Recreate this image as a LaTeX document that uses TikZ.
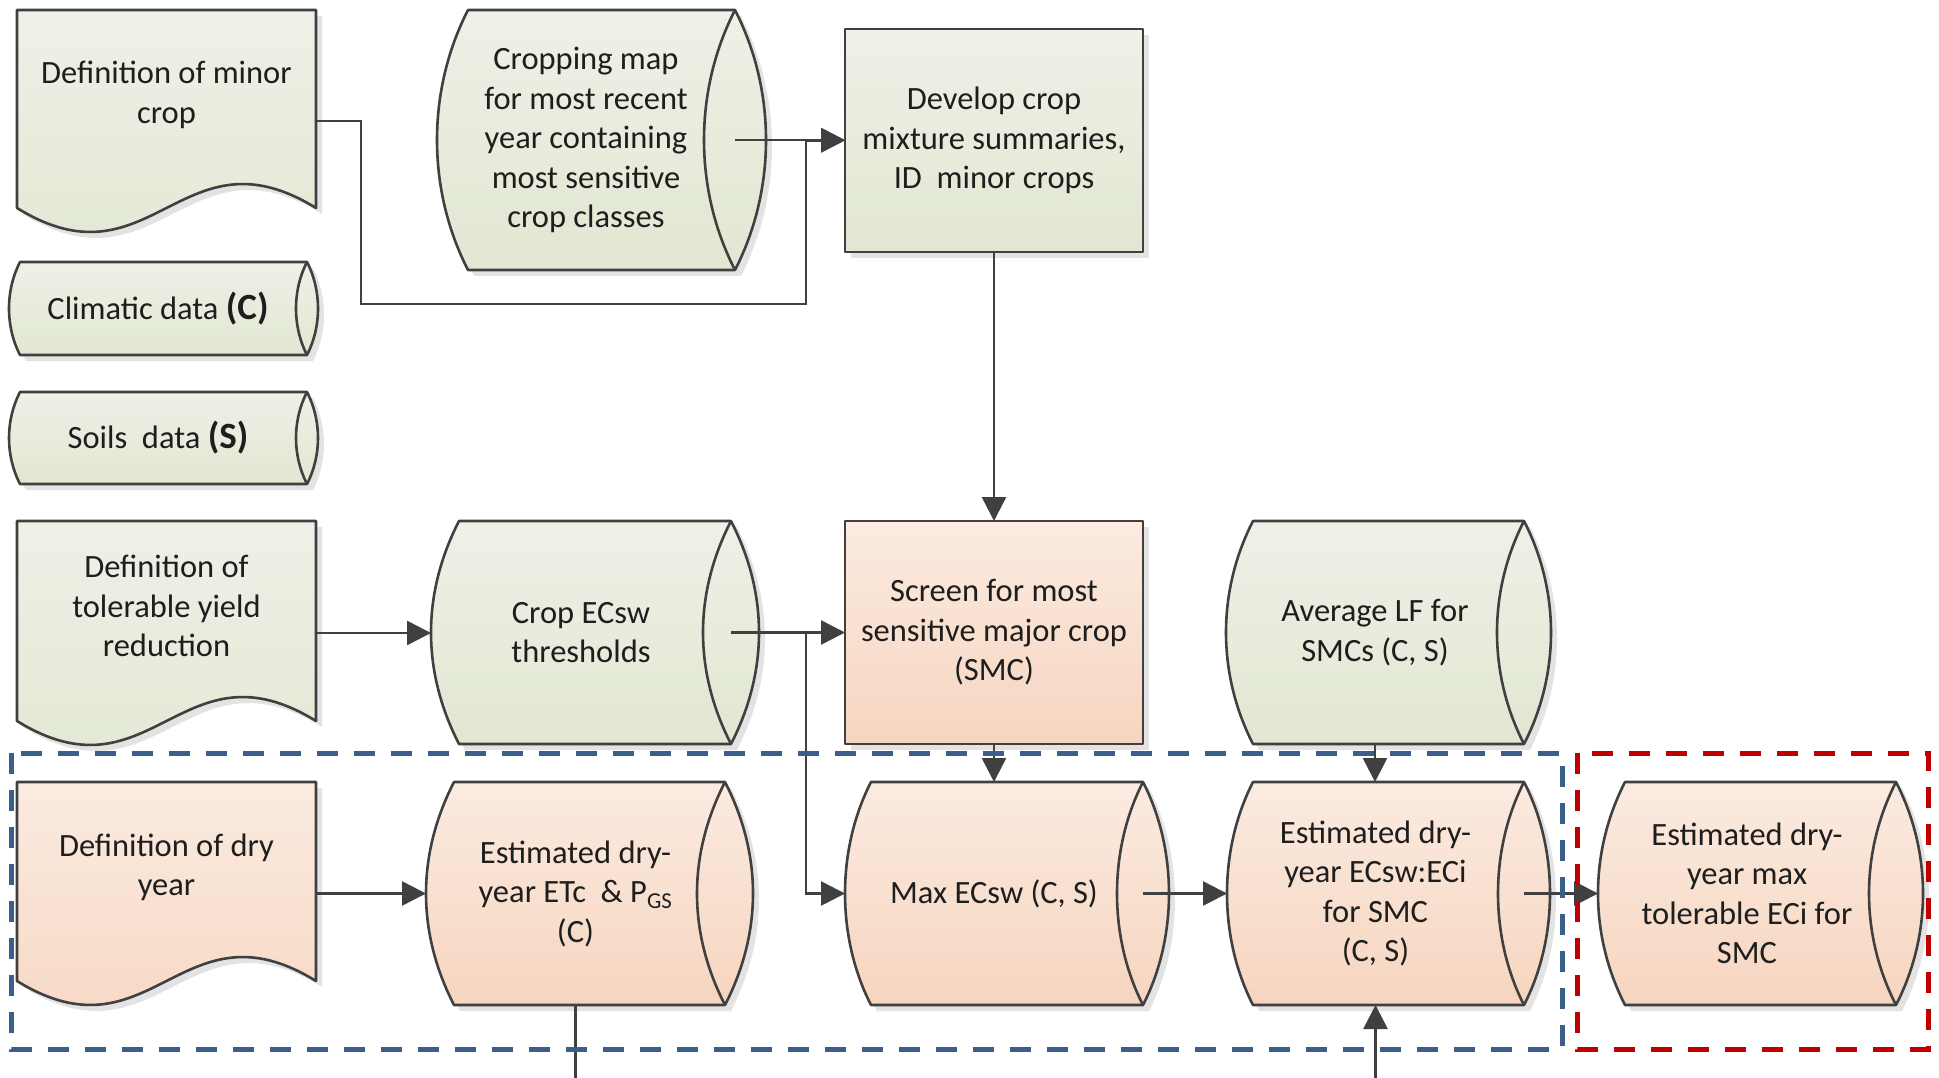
\documentclass[tikz,border=0pt]{standalone}
\usepackage{fontspec}
\setmainfont{Carlito}
\usetikzlibrary{arrows.meta,backgrounds}
\definecolor{linec}{HTML}{404040}
\definecolor{grnT}{HTML}{EEF1E7}
\definecolor{grnB}{HTML}{E1E7D2}
\definecolor{pchT}{HTML}{FBEBE1}
\definecolor{pchB}{HTML}{F6D5BF}
\definecolor{shadowc}{HTML}{E3E3E3}
\definecolor{dashblue}{HTML}{3A5F8B}
\definecolor{dashred}{HTML}{C00000}
\definecolor{txtc}{HTML}{1E1E1E}
\tikzset{
  shp/.style={rectangle, inner sep=0pt, outer sep=0pt, align=center, text=txtc,
    font=\fontsize{32.5}{39.5}\selectfont},
  lbl/.style={inner sep=0pt, outer sep=0pt, align=center, text=txtc,
    font=\fontsize{32.5}{39.5}\selectfont},
  fillgrn/.style={top color=grnT, bottom color=grnB},
  fillpch/.style={top color=pchT, bottom color=pchB},
  outline/.style={draw=linec, line width=2.6pt, line join=round},
  conn/.style={draw=linec, line width=2.6pt, -{Triangle[length=24pt,width=24pt]}},
  plainline/.style={draw=linec, line width=2.6pt},
  grpbox/.style={line width=5pt, dash pattern=on 21pt off 16pt}
}
\newcommand{\bigbf}[1]{{\fontsize{37}{39.5}\selectfont\bfseries #1}}
% lens-shaped horizontal cylinder: #1 node, #2 rx, #3 fill style
\newcommand{\cylshape}[3]{%
  \pgfmathsetmacro\cA{1.333*#2}%
  \pgfmathsetmacro\cB{2.6*#2}%
  \begin{scope}[transform canvas={shift={(6pt,-6pt)}}]
    \fill[shadowc] ([xshift=#2pt]#1.north west) -- (#1.north east)
      .. controls +(\cA,\cB) and +(\cA,-\cB) .. (#1.south east)
      -- ([xshift=#2pt]#1.south west)
      .. controls +(-\cA,-\cB) and +(-\cA,\cB) .. ([xshift=#2pt]#1.north west) -- cycle;
  \end{scope}
  \path[#3, outline] ([xshift=#2pt]#1.north west) -- (#1.north east)
      .. controls +(\cA,\cB) and +(\cA,-\cB) .. (#1.south east)
      -- ([xshift=#2pt]#1.south west)
      .. controls +(-\cA,-\cB) and +(-\cA,\cB) .. ([xshift=#2pt]#1.north west) -- cycle;
  \draw[outline] (#1.north east) .. controls +(-\cA,\cB) and +(-\cA,-\cB) .. (#1.south east);
}
\newcommand{\docshape}[3]{%
  \begin{scope}[transform canvas={shift={(6pt,-6pt)}}]
    \fill[shadowc] (#1.north west) -- (#1.north east) -- ([yshift=24pt]#1.south east)
      .. controls +(-#2,-83) and +(#2,83) .. ([yshift=24pt]#1.south west) -- cycle;
  \end{scope}
  \path[#3, outline] (#1.north west) -- (#1.north east) -- ([yshift=24pt]#1.south east)
      .. controls +(-#2,-83) and +(#2,83) .. ([yshift=24pt]#1.south west) -- cycle;
}
\newcommand{\rectshape}[2]{%
  \begin{scope}[transform canvas={shift={(6pt,-6pt)}}]
    \fill[shadowc] (#1.north west) rectangle (#1.south east);
  \end{scope}
  \path[#2, outline] (#1.north west) rectangle (#1.south east);
}
\begin{document}
\begin{tikzpicture}[x=1pt,y=-1pt]
\useasboundingbox (0,0) rectangle (1939,1078);
% ---- nodes
\node[shp, minimum width=299pt, minimum height=222pt] (doc1) at (166.5,121) {};
\node[lbl] (doc1t) at ([yshift=26pt]doc1.center) {Definition of minor\\crop};
\node[shp, minimum width=298pt, minimum height=260pt] (cropmap) at (586,140) {Cropping map\\for most recent\\year containing\\most sensitive\\crop classes};
\node[shp, minimum width=298pt, minimum height=223pt] (develop) at (994,140.5) {Develop crop\\mixture summaries,\\ID\ \ minor crops};
\node[shp, minimum width=298pt, minimum height=93pt] (climatic) at (158,308.5) {Climatic data \bigbf{(C)}};
\node[shp, minimum width=298pt, minimum height=92pt] (soils) at (158,438) {Soils\ \ data \bigbf{(S)}};
\node[shp, minimum width=299pt, minimum height=224pt] (doc2) at (166.5,633) {};
\node[lbl] (doc2t) at ([yshift=27pt]doc2.center) {Definition of\\tolerable yield\\reduction};
\node[shp, minimum width=300pt, minimum height=223pt] (ecsw) at (581,632.5) {Crop ECsw\\thresholds};
\node[shp, minimum width=298pt, minimum height=223pt] (screen) at (994,632.5) {Screen for most\\sensitive major crop\\(SMC)};
\node[shp, minimum width=298pt, minimum height=223pt] (avglf) at (1375,632.5) {Average LF for\\SMCs (C, S)};
\node[shp, minimum width=299pt, minimum height=223pt] (doc3) at (166.5,893.5) {};
\node[lbl] (doc3t) at ([yshift=26pt]doc3.center) {Definition of dry\\year};
\node[shp, minimum width=299pt, minimum height=223pt] (etc) at (575.5,893.5) {Estimated dry-\\year ETc\ \ \& P\textsubscript{GS}\\(C)};
\node[shp, minimum width=298pt, minimum height=223pt] (maxecsw) at (994,893.5) {Max ECsw (C, S)};
\node[shp, minimum width=297pt, minimum height=223pt] (ratio) at (1375.5,893.5) {Estimated dry-\\year ECsw:ECi\\for SMC\\(C, S)};
\node[shp, minimum width=298pt, minimum height=223pt] (maxtol) at (1747,893.5) {Estimated dry-\\year max\\tolerable ECi for\\SMC};
% ---- shapes
\begin{scope}[on background layer]
\fill[white] (0,0) rectangle (1939,1078);
\docshape{doc1}{134.5}{fillgrn}
\cylshape{cropmap}{31}{fillgrn}
\rectshape{develop}{fillgrn}
\cylshape{climatic}{11}{fillgrn}
\cylshape{soils}{11}{fillgrn}
\docshape{doc2}{134.5}{fillgrn}
\cylshape{ecsw}{28}{fillgrn}
\rectshape{screen}{fillpch}
\cylshape{avglf}{27}{fillgrn}
\docshape{doc3}{134.5}{fillpch}
\cylshape{etc}{28}{fillpch}
\cylshape{maxecsw}{26}{fillpch}
\cylshape{ratio}{26}{fillpch}
\cylshape{maxtol}{27}{fillpch}
\end{scope}
% ---- connectors
\draw[conn] (doc1.east) -- (361,0 |- doc1.east) -- (361,304) -- (806,304) -- (806,0 |- develop.west) -- (develop.west);
\draw[conn] (cropmap.east) -- (cropmap.east -| develop.west);
\draw[conn] (develop.south) -- (screen.north);
\draw[conn] (doc2.east) -- (doc2.east -| ecsw.west);
\draw[conn] (ecsw.east) -- (ecsw.east -| screen.west);
\draw[conn] (806,0 |- ecsw.east) -- (806,0 |- maxecsw.west) -- (maxecsw.west);
\draw[conn] (doc3.east) -- (doc3.east -| etc.west);
\draw[conn] (screen.south) -- (maxecsw.north);
\draw[conn] (avglf.south) -- (avglf.south |- ratio.north);
\draw[conn] (maxecsw.east) -- (maxecsw.east -| ratio.west);
\draw[conn] (ratio.east) -- (ratio.east -| maxtol.west);
\coordinate (outA) at (etc.south |- 0,1078);
\coordinate (inB) at (ratio.south |- 0,1078);
\draw[plainline] (etc.south) -- (outA);
\draw[conn] (inB) -- (ratio.south);
% ---- group frames
\draw[dashblue, grpbox] (11,753) rectangle (1562,1049);
\draw[dashred, grpbox] (1577,753) rectangle (1928,1049);
\end{tikzpicture}
\end{document}
